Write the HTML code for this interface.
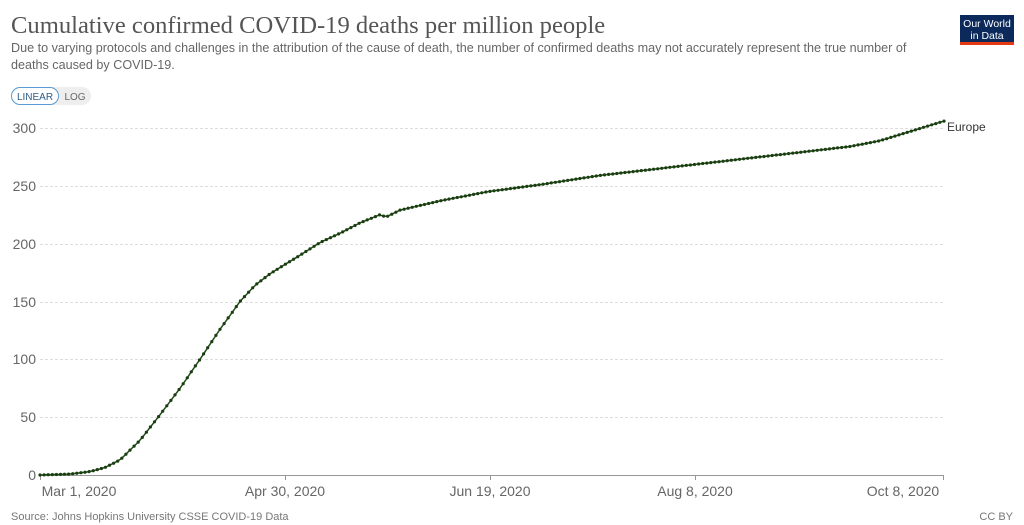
<!DOCTYPE html>
<html><head><meta charset="utf-8"><style>
body{margin:0;background:#fff;width:1024px;height:525px;overflow:hidden;font-family:"Liberation Sans",sans-serif}
</style></head><body>
<svg width="1024" height="525" xmlns="http://www.w3.org/2000/svg" style="position:absolute;left:0;top:0">
<text x="11" y="33" font-family="Liberation Serif,serif" font-size="24.6" fill="#555">Cumulative confirmed COVID-19 deaths per million people</text>
<text x="11" y="52" font-size="12.6" fill="#666">Due to varying protocols and challenges in the attribution of the cause of death, the number of confirmed deaths may not accurately represent the true number of</text>
<text x="11" y="69" font-size="12.6" fill="#666">deaths caused by COVID-19.</text>
<rect x="960" y="15" width="54" height="27" fill="#0b2a5b"/>
<rect x="960" y="42" width="54" height="3" fill="#e63912"/>
<text x="987" y="27" font-size="10.5" fill="#fff" text-anchor="middle">Our World</text>
<text x="987" y="39" font-size="10.5" fill="#fff" text-anchor="middle">in Data</text>
<rect x="11" y="87" width="80" height="18" rx="9" fill="#eee"/>
<rect x="11.5" y="87.5" width="47" height="17" rx="8.5" fill="#fff" stroke="#5b9bd5"/>
<text x="35" y="100" font-size="10" fill="#2e5c8a" text-anchor="middle">LINEAR</text>
<text x="75" y="100" font-size="10" fill="#666" text-anchor="middle">LOG</text>
<g stroke="#ddd" stroke-dasharray="3,2" stroke-width="1">
<line x1="40" x2="944" y1="417.5" y2="417.5"/><line x1="40" x2="944" y1="359.5" y2="359.5"/>
<line x1="40" x2="944" y1="302.5" y2="302.5"/><line x1="40" x2="944" y1="244.5" y2="244.5"/>
<line x1="40" x2="944" y1="186.5" y2="186.5"/><line x1="40" x2="944" y1="128.5" y2="128.5"/>
</g>
<line x1="40" x2="944" y1="475.5" y2="475.5" stroke="#999"/>
<g font-size="14" fill="#666" text-anchor="end">
<text x="36" y="480">0</text><text x="36" y="422">50</text><text x="36" y="364">100</text>
<text x="36" y="307">150</text><text x="36" y="249">200</text><text x="36" y="191">250</text><text x="36" y="133">300</text>
</g>
<g stroke="#999"><line x1="40.5" x2="40.5" y1="475" y2="480"/><line x1="285.5" x2="285.5" y1="475" y2="480"/><line x1="490.5" x2="490.5" y1="475" y2="480"/><line x1="695.5" x2="695.5" y1="475" y2="480"/><line x1="943.5" x2="943.5" y1="475" y2="480"/></g>
<g font-size="14" fill="#666" text-anchor="middle">
<text x="79" y="496">Mar 1, 2020</text><text x="285" y="496">Apr 30, 2020</text><text x="490" y="496">Jun 19, 2020</text><text x="695" y="496">Aug 8, 2020</text><text x="903" y="496">Oct 8, 2020</text>
</g>
<text x="947" y="131" font-size="12" fill="#333">Europe</text>
<text x="11" y="520" font-size="11" fill="#777">Source: Johns Hopkins University CSSE COVID-19 Data</text>
<text x="1013" y="520" font-size="11" fill="#777" text-anchor="end">CC BY</text>
<path id="ln" fill="none" stroke="#1f4d15" stroke-width="1.5"/>
<g id="dots" fill="#1a3d12"></g>
</svg>
<script>
var k=[[40,0],[70,0.8],[90,3],[105,6.5],[120,13],[140,30],[160,52],[180,75],[200,100],[220,126],[240,150],[255,164],[270,174],[285,182],[300,190],[320,201],[340,209],[360,218],[380,225],[386,223],[400,229],[440,237],[488,245],[540,251],[600,259],[700,269],[800,279],[850,284],[880,289],[944,306]];
function v(x){for(var i=1;i<k.length;i++){if(x<=k[i][0]){var a=k[i-1],b=k[i];return a[1]+(b[1]-a[1])*(x-a[0])/(b[0]-a[0]);}}return 306;}
var d="",g="";for(var i=0;i<=221;i++){var x=40+i*904/221,y=475-v(x)*347/300;d+=(i?"L":"M")+x.toFixed(1)+","+y.toFixed(1);g+='<circle cx="'+x.toFixed(1)+'" cy="'+y.toFixed(1)+'" r="1.6"/>';}
document.getElementById("ln").setAttribute("d",d);document.getElementById("dots").innerHTML=g;
</script>
</body></html>
